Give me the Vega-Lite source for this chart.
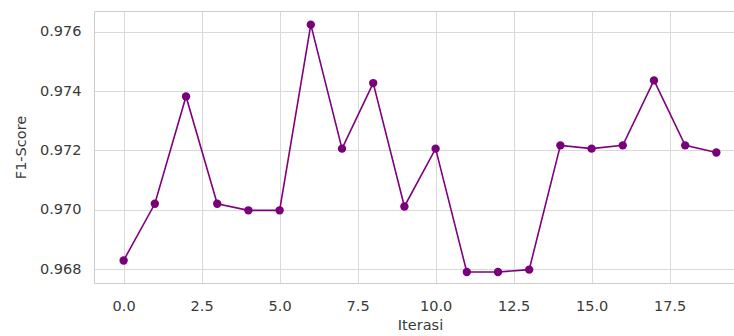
{
  "$schema": "https://vega.github.io/schema/vega-lite/v6.json",
  "autosize": {"type": "none"},
  "padding": {"left": 94, "top": 11, "right": 0, "bottom": 53},
  "width": 640,
  "height": 272,
  "background": "white",
  "config": {
    "view": {"stroke": null},
    "font": "DejaVu Sans",
    "axis": {
      "domain": true,
      "domainColor": "#cccccc",
      "domainWidth": 1,
      "ticks": false,
      "gridColor": "#d9d9d9",
      "gridWidth": 1,
      "labelColor": "#3a3a3a",
      "labelFontSize": 14.5,
      "labelFont": "DejaVu Sans",
      "titleFont": "DejaVu Sans",
      "titleFontWeight": "normal",
      "titleColor": "#3a3a3a",
      "titleFontSize": 14.5,
      "labelPadding": 13
    }
  },
  "data": {
    "values": [
      {"iterasi": 0, "f1": 0.96829},
      {"iterasi": 1, "f1": 0.97020},
      {"iterasi": 2, "f1": 0.97382},
      {"iterasi": 3, "f1": 0.97020},
      {"iterasi": 4, "f1": 0.96998},
      {"iterasi": 5, "f1": 0.96998},
      {"iterasi": 6, "f1": 0.97624},
      {"iterasi": 7, "f1": 0.97206},
      {"iterasi": 8, "f1": 0.97427},
      {"iterasi": 9, "f1": 0.97011},
      {"iterasi": 10, "f1": 0.97206},
      {"iterasi": 11, "f1": 0.96790},
      {"iterasi": 12, "f1": 0.96790},
      {"iterasi": 13, "f1": 0.96798},
      {"iterasi": 14, "f1": 0.97217},
      {"iterasi": 15, "f1": 0.97206},
      {"iterasi": 16, "f1": 0.97217},
      {"iterasi": 17, "f1": 0.97436},
      {"iterasi": 18, "f1": 0.97217},
      {"iterasi": 19, "f1": 0.97193}
    ]
  },
  "encoding": {
    "y": {
      "field": "f1",
      "type": "quantitative",
      "scale": {"domain": [0.96753, 0.9767], "nice": false, "zero": false},
      "axis": {
        "title": "F1-Score",
        "values": [0.968, 0.970, 0.972, 0.974, 0.976],
        "format": ".3f",
        "titlePadding": 11
      }
    }
  },
  "layer": [
    {
      "mark": {"type": "line", "color": "#800080", "strokeWidth": 1.6},
      "encoding": {
        "x": {
          "field": "iterasi",
          "type": "quantitative",
          "scale": {"domain": [-0.95, 19.565], "nice": false, "zero": false},
          "axis": {
            "title": "Iterasi",
            "values": [0, 2.5, 5, 7.5, 10, 12.5, 15, 17.5],
            "format": ".1f",
            "labelPadding": 16,
            "titlePadding": 6,
            "titleX": 326
          }
        }
      }
    },
    {
      "mark": {"type": "point", "filled": true, "color": "#7a007a", "opacity": 1, "size": 70},
      "encoding": {
        "x": {
          "field": "iterasi",
          "type": "quantitative",
          "axis": {
            "orient": "top",
            "title": null,
            "labels": false,
            "grid": false,
            "ticks": false,
            "domain": true
          }
        }
      }
    }
  ],
  "resolve": {"axis": {"x": "independent"}}
}
